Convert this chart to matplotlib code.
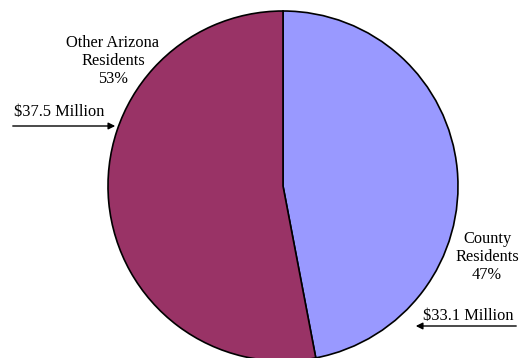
import matplotlib
matplotlib.use("Agg")
import matplotlib.pyplot as plt

categories = ["County\nResidents", "Other Arizona\nResidents"]
shares = [47, 53]
amounts = ["$33.1 Million", "$37.5 Million"]
colors = ["#9999FF", "#993366"]

W, H = 524, 358
fig = plt.figure(figsize=(W / 100, H / 100), dpi=100)
ax = fig.add_axes([0, 0, 1, 1])

plt.rcParams["font.family"] = ["Liberation Serif", "DejaVu Serif"]
ax.pie(shares, colors=colors, startangle=90, counterclock=False,
       center=(283, H - 186), radius=175, frame=True,
       wedgeprops=dict(edgecolor="black", linewidth=1.2))
ax.set_xlim(0, W)
ax.set_ylim(0, H)
ax.set_aspect("equal")
ax.axis("off")

fs = 11.8
ls = 1.13
ax.text(487, H - 257, f"{categories[0]}\n{shares[0]}%", ha="center", va="center",
        fontsize=fs, linespacing=ls, family="Liberation Serif")
ax.text(113, H - 61, f"{categories[1]}\n{shares[1]}%", ha="center", va="center",
        fontsize=fs, linespacing=ls, family="Liberation Serif")

ax.text(14, H - 112, amounts[1], ha="left", va="center", fontsize=fs,
        family="Liberation Serif")
ax.annotate("", xy=(118, H - 126), xytext=(10, H - 126),
            arrowprops=dict(arrowstyle="-|>", color="black", lw=1, mutation_scale=10))
ax.text(468, H - 316, amounts[0], ha="center", va="center", fontsize=fs,
        family="Liberation Serif")
ax.annotate("", xy=(413, H - 326), xytext=(519, H - 326),
            arrowprops=dict(arrowstyle="-|>", color="black", lw=1, mutation_scale=10))

fig.savefig("out.png", dpi=100)
